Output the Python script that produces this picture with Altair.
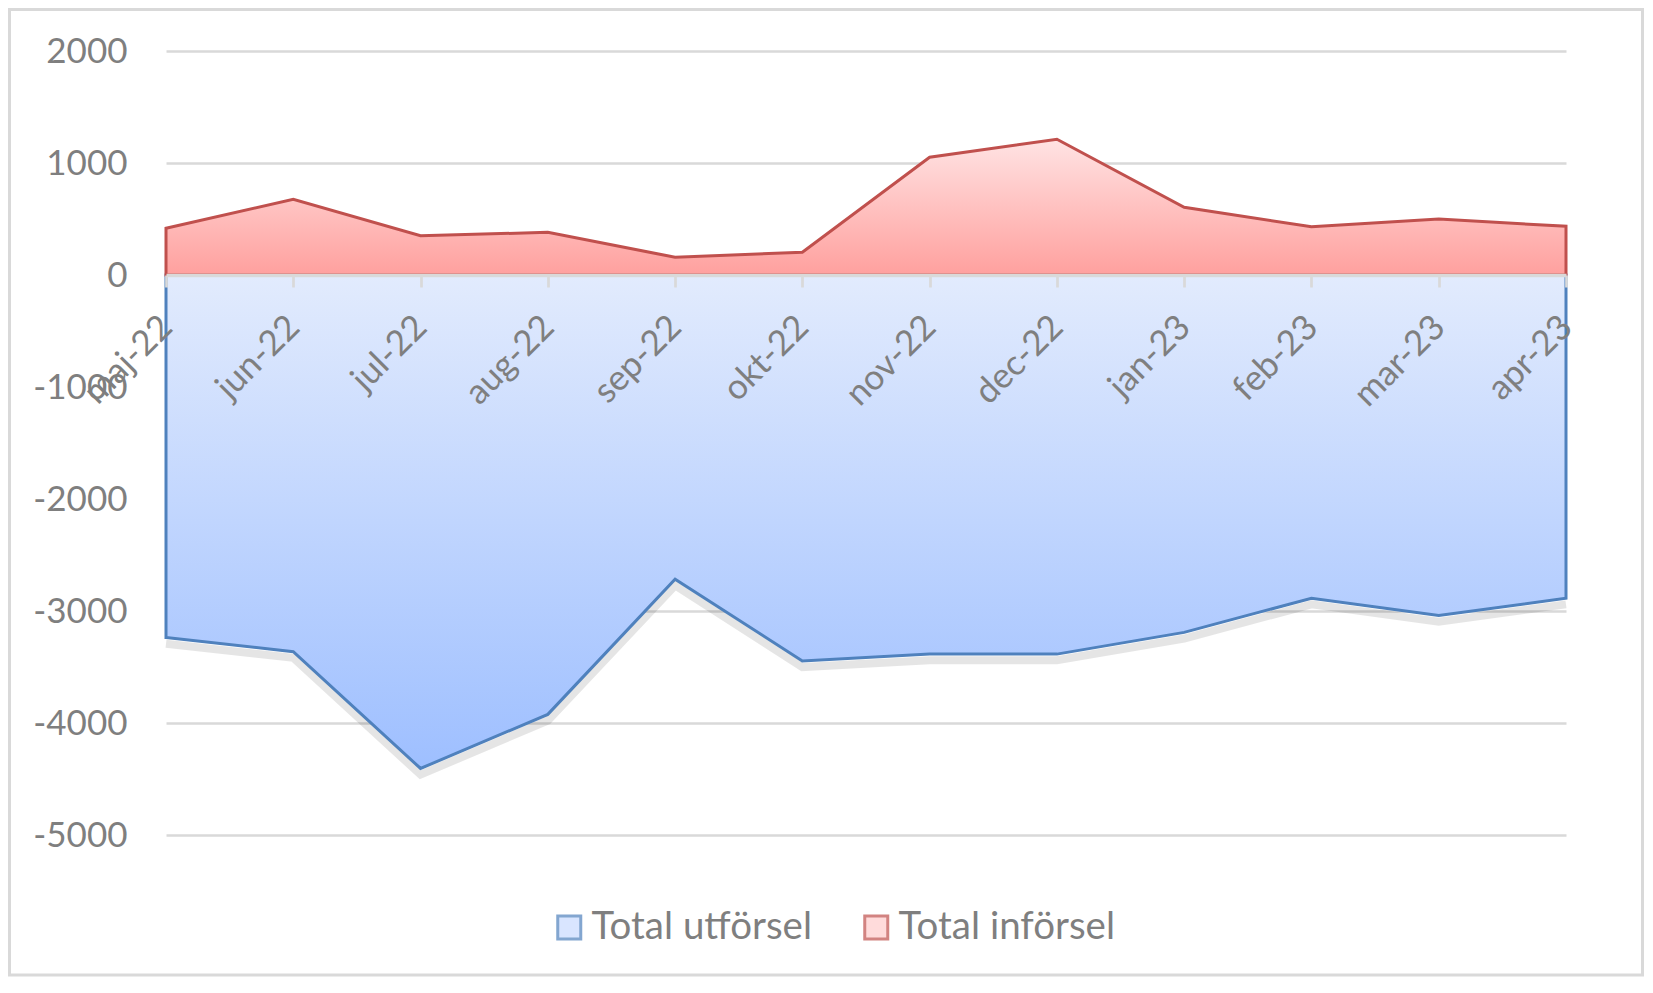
import altair as alt
import pandas as pd

months = ["maj-22", "jun-22", "jul-22", "aug-22", "sep-22", "okt-22",
          "nov-22", "dec-22", "jan-23", "feb-23", "mar-23", "apr-23"]
utforsel = [-3237, -3363, -4406, -3923, -2717, -3446, -3385, -3385, -3191, -2886, -3040, -2886]
inforsel = [417, 676, 351, 381, 158, 203, 1051, 1212, 604, 431, 500, 435]
series_names = ["Total utförsel", "Total införsel"]
y_ticks = [-5000, -4000, -3000, -2000, -1000, 0, 1000, 2000]

rows = []
for m, v in zip(months, utforsel):
    rows.append({"month": m, "series": series_names[0], "value": v})
for m, v in zip(months, inforsel):
    rows.append({"month": m, "series": series_names[1], "value": v})
df = pd.DataFrame(rows)

W, H = 1400, 784
FONT = "Lato"
GRAY = "#7f7f7f"
GRID = "#d9d9d9"
BLUE = "#4f81bd"
RED = "#c0504d"

x_enc = alt.X(
    "month:N", sort=months,
    scale=alt.Scale(type="point", padding=0),
    axis=alt.Axis(
        orient="bottom", offset=-H * 5 / 7, title=None,
        labelAngle=-45, labelAlign="right", labelBaseline="middle",
        labelPadding=34, labelFont=FONT, labelFontSize=35, labelColor=GRAY,
        labelOverlap=False, tickSize=12, tickWidth=2.7, tickColor=GRID,
        domainColor=GRID, domainWidth=3.3, grid=False, zindex=1,
    ),
)
y_enc = alt.Y(
    "value:Q",
    scale=alt.Scale(domain=[-5000, 2000], nice=False, zero=True),
    axis=alt.Axis(
        values=y_ticks, title=None, domain=False, ticks=False,
        labelExpr="(datum.value < 0 ? '-' : '') + format(abs(datum.value), 'd')",
        labelFont=FONT, labelFontSize=35, labelColor=GRAY, labelPadding=39,
        grid=True, gridColor=GRID, gridWidth=2.7, zindex=0,
    ),
)

base = alt.Chart(df)

blue_grad = alt.Gradient(
    gradient="linear",
    stops=[alt.GradientStop(color="#e2ebfd", offset=0),
           alt.GradientStop(color="#9ebfff", offset=1)],
    x1=0, x2=0, y1=0, y2=1,
)
red_grad = alt.Gradient(
    gradient="linear",
    stops=[alt.GradientStop(color="#ffe3e3", offset=0),
           alt.GradientStop(color="#ffa09e", offset=1)],
    x1=0, x2=0, y1=0, y2=1,
)

shadow = base.transform_filter(
    alt.datum.series == series_names[0]
).transform_calculate(
    sh="datum.value - 55"
).mark_line(color="#000000", opacity=0.1, strokeWidth=8).encode(
    x=x_enc, y=alt.Y("sh:Q", scale=alt.Scale(domain=[-5000, 2000], nice=False))
)

blue_area = base.transform_filter(
    alt.datum.series == series_names[0]
).mark_area(fill=blue_grad, stroke=BLUE, strokeWidth=3).encode(x=x_enc, y=y_enc)

red_area = base.transform_filter(
    alt.datum.series == series_names[1]
).mark_area(fill=red_grad, stroke=RED, strokeWidth=3).encode(x=x_enc, y=y_enc)

legend_layer = base.transform_filter("false").mark_square(
    filled=True, strokeWidth=3
).encode(
    x=x_enc, y=y_enc,
    fill=alt.Fill("series:N", scale=alt.Scale(domain=series_names, range=["#c9dbff", "#ffcccc"]),
                  legend=alt.Legend(title=None)),
    stroke=alt.Stroke("series:N", scale=alt.Scale(domain=series_names, range=[BLUE, RED]),
                      legend=alt.Legend(title=None)),
)

frame = alt.Chart(pd.DataFrame({"a": [0]})).mark_rect(
    filled=False, stroke=GRID, strokeWidth=3
).encode(
    x=alt.value(-156.5), x2=alt.value(1476.5), y=alt.value(-41.5), y2=alt.value(924)
)

chart = alt.layer(frame, shadow, blue_area, red_area, legend_layer).properties(
    width=W, height=H,
    autosize=alt.AutoSizeParams(type="none"),
    padding={"left": 158, "top": 43, "right": 78, "bottom": 142},
    background="white",
).configure_view(stroke=None).configure_legend(
    orient="none", legendX=384, legendY=857, direction="horizontal",
    symbolType="square", symbolSize=529, symbolStrokeWidth=3,
    labelFont=FONT, labelFontSize=38.5, labelColor=GRAY, labelOffset=3,
    columnPadding=44, padding=0, labelLimit=0,
)

chart.save("out.html", embed_options={"renderer": "svg", "actions": False})
